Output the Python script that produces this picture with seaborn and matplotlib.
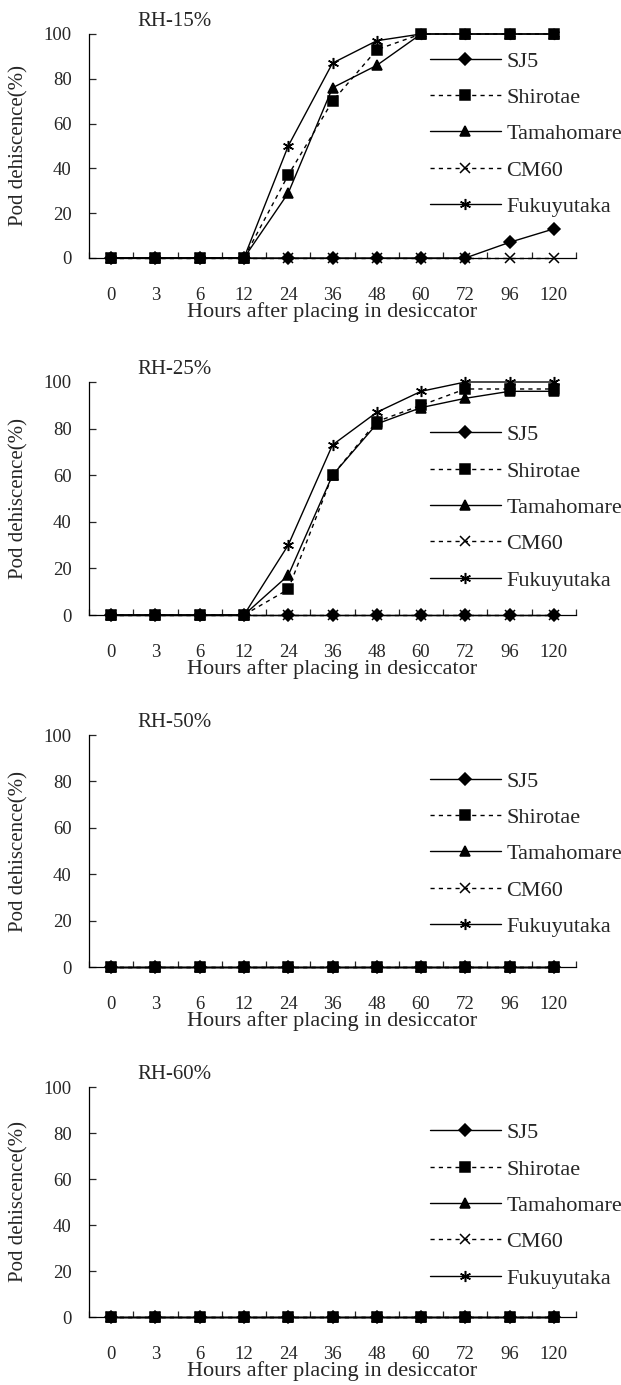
import numpy as np
import seaborn as sns
import matplotlib.pyplot as plt

# data
hours = ["0", "3", "6", "12", "24", "36", "48", "60", "72", "96", "120"]
varieties = ["SJ5", "Shirotae", "Tamahomare", "CM60", "Fukuyutaka"]

rh15_sj5 = [0, 0, 0, 0, 0, 0, 0, 0, 0, 7, 13]
rh15_shirotae = [0, 0, 0, 0, 37, 70, 93, 100, 100, 100, 100]
rh15_tamahomare = [0, 0, 0, 0, 29, 76, 86, 100, 100, 100, 100]
rh15_cm60 = [0, 0, 0, 0, 0, 0, 0, 0, 0, 0, 0]
rh15_fukuyutaka = [0, 0, 0, 0, 50, 87, 97, 100, 100, 100, 100]

rh25_sj5 = [0, 0, 0, 0, 0, 0, 0, 0, 0, 0, 0]
rh25_shirotae = [0, 0, 0, 0, 11, 60, 83, 90, 97, 97, 97]
rh25_tamahomare = [0, 0, 0, 0, 17, 60, 82, 89, 93, 96, 96]
rh25_cm60 = [0, 0, 0, 0, 0, 0, 0, 0, 0, 0, 0]
rh25_fukuyutaka = [0, 0, 0, 0, 30, 73, 87, 96, 100, 100, 100]

rh50_sj5 = [0, 0, 0, 0, 0, 0, 0, 0, 0, 0, 0]
rh50_shirotae = [0, 0, 0, 0, 0, 0, 0, 0, 0, 0, 0]
rh50_tamahomare = [0, 0, 0, 0, 0, 0, 0, 0, 0, 0, 0]
rh50_cm60 = [0, 0, 0, 0, 0, 0, 0, 0, 0, 0, 0]
rh50_fukuyutaka = [0, 0, 0, 0, 0, 0, 0, 0, 0, 0, 0]

rh60_sj5 = [0, 0, 0, 0, 0, 0, 0, 0, 0, 0, 0]
rh60_shirotae = [0, 0, 0, 0, 0, 0, 0, 0, 0, 0, 0]
rh60_tamahomare = [0, 0, 0, 0, 0, 0, 0, 0, 0, 0, 0]
rh60_cm60 = [0, 0, 0, 0, 0, 0, 0, 0, 0, 0, 0]
rh60_fukuyutaka = [0, 0, 0, 0, 0, 0, 0, 0, 0, 0, 0]

panels = [
    ("RH-15%", [rh15_sj5, rh15_shirotae, rh15_tamahomare, rh15_cm60, rh15_fukuyutaka]),
    ("RH-25%", [rh25_sj5, rh25_shirotae, rh25_tamahomare, rh25_cm60, rh25_fukuyutaka]),
    ("RH-50%", [rh50_sj5, rh50_shirotae, rh50_tamahomare, rh50_cm60, rh50_fukuyutaka]),
    ("RH-60%", [rh60_sj5, rh60_shirotae, rh60_tamahomare, rh60_cm60, rh60_fukuyutaka]),
]

sns.set_style("ticks")
plt.rcParams["font.family"] = ["Liberation Serif", "DejaVu Serif"]

markers = {"SJ5": "D", "Shirotae": "s", "Tamahomare": "^", "CM60": "x", "Fukuyutaka": (6, 2, 0)}
msizes = {"SJ5": 6.5, "Shirotae": 6.5, "Tamahomare": 7.5, "CM60": 7, "Fukuyutaka": 8}
styles = {"SJ5": "-", "Shirotae": (0, (3, 3)), "Tamahomare": "-", "CM60": (0, (3, 3)), "Fukuyutaka": "-"}

W, H = 621, 1385
fig = plt.figure(figsize=(W / 100, H / 100), dpi=100)

# axes boxes in pixels: (top, bottom)
boxes = [(34, 258), (382, 615), (735, 967), (1087, 1317)]
legend_top = [0.924, 0.817, 0.845, 0.845]
ax_left, ax_right = 89, 576

for i, ((title, series), (top, bot)) in enumerate(zip(panels, boxes)):
    ax = fig.add_axes([ax_left / W, 1 - bot / H, (ax_right - ax_left) / W, (bot - top) / H])
    for name, vals in zip(varieties, series):
        sns.lineplot(x=hours, y=vals, color="black", marker=markers[name],
                     linestyle=styles[name], linewidth=1.0, markersize=msizes[name],
                     markeredgecolor="black", markeredgewidth=1.1, clip_on=False,
                     label=name, ax=ax)

    ax.set_xlim(-0.5, 10.5)
    ax.set_ylim(0, 100)
    ax.set_yticks(range(0, 101, 20))
    ax.set_xticks(range(len(hours)))
    ax.set_xticklabels(hours)
    ax.set_xticks(np.arange(-0.5, len(hours), 1), minor=True)
    ax.tick_params(axis="x", which="major", length=0, pad=21, labelsize=13.5)
    ax.tick_params(axis="x", which="minor", direction="in", length=4.5, width=0.9)
    ax.tick_params(axis="y", direction="in", length=5, width=0.9, pad=12.5, labelsize=13.5)
    for s in ["top", "right"]:
        ax.spines[s].set_visible(False)
    for s in ["left", "bottom"]:
        ax.spines[s].set_linewidth(0.9)
        ax.spines[s].set_color("black")

    ax.set_xlabel("Hours after placing in desiccator", fontsize=16, labelpad=-1.5)
    ax.set_ylabel("Pod dehiscence(%)", fontsize=15, labelpad=11)
    ax.text(0.099, 1.035, title, transform=ax.transAxes, fontsize=15, va="baseline")

    ax.legend(loc="upper left", bbox_to_anchor=(0.70, legend_top[i]),
              frameon=False, fontsize=16, handlelength=3.2, handletextpad=0.25,
              labelspacing=0.71, borderpad=0, borderaxespad=0)

fig.savefig("out.png", dpi=100)
